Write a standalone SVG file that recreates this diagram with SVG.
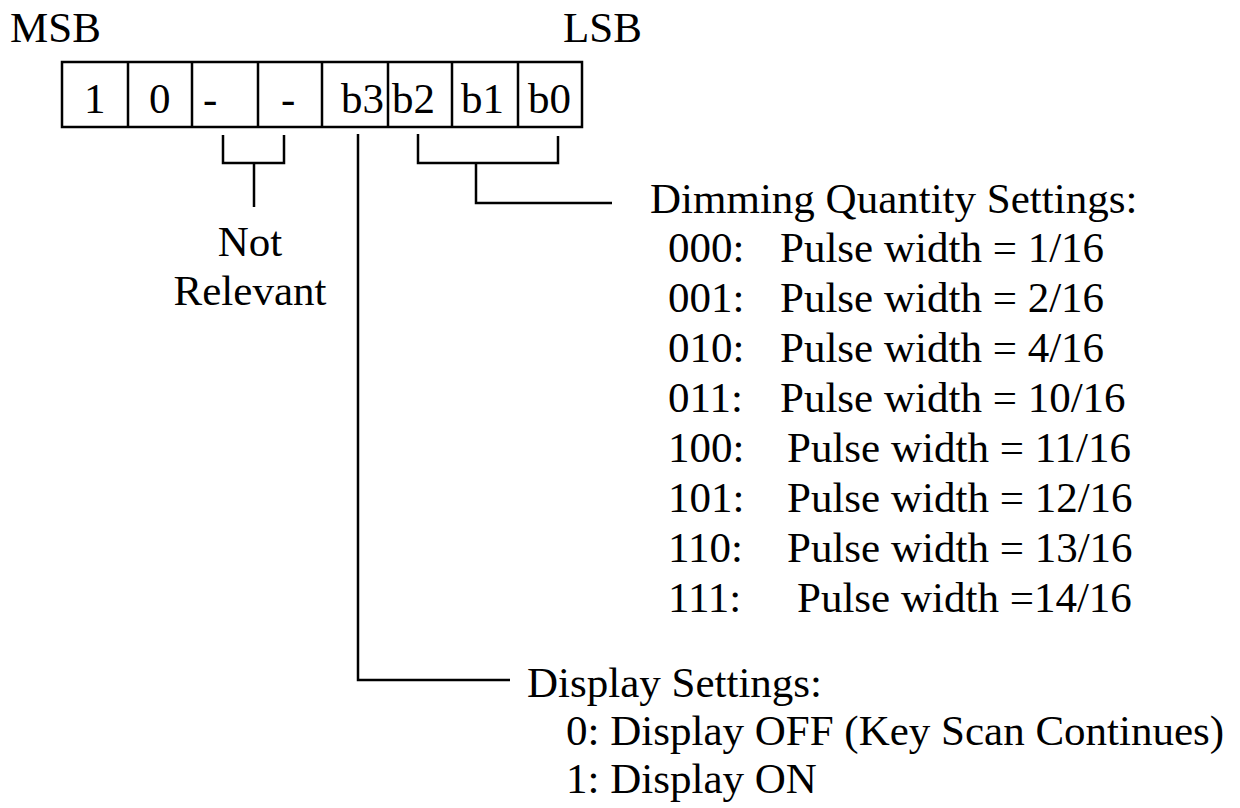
<svg xmlns="http://www.w3.org/2000/svg" width="1240" height="808" viewBox="0 0 1240 808">
<style>
.t{font-family:'Liberation Serif','Times New Roman',serif;font-size:43px;fill:#000}
.ln{fill:none;stroke:#000;stroke-width:2.5}
</style>
<rect width="1240" height="808" fill="#fff"/>
<g id="labels">
<text class="t" x="10" y="42">MSB</text>
<text class="t" x="563" y="42">LSB</text>
</g>
<g id="register">
<rect class="ln" x="62" y="62" width="520" height="65"/>
<path class="ln" d="M128 62V127M192 62V127M258 62V127M322 62V127M388 62V127M452 62V127M518 62V127"/>
<text class="t" x="84" y="113">1</text>
<text class="t" x="149" y="113">0</text>
<text class="t" x="203" y="113">-</text>
<text class="t" x="281" y="113">-</text>
<text class="t" x="341" y="113">b3</text>
<text class="t" x="392" y="113">b2</text>
<text class="t" x="461" y="113">b1</text>
<text class="t" x="528" y="113">b0</text>
</g>
<g id="connectors">
<path class="ln" d="M223 135V163H284V135M254 163V207"/>
<path class="ln" d="M358 134V680H510"/>
<path class="ln" d="M418 134V163H558V136M476 163V203H612"/>
</g>
<g id="not-relevant">
<text class="t" x="250" y="256" text-anchor="middle">Not</text>
<text class="t" x="250" y="305" text-anchor="middle">Relevant</text>
</g>
<g id="dimming">
<text class="t" x="650" y="213">Dimming Quantity Settings:</text>
<text class="t" x="668" y="262">000:<tspan x="780">Pulse width = 1/16</tspan></text>
<text class="t" x="668" y="312">001:<tspan x="780">Pulse width = 2/16</tspan></text>
<text class="t" x="668" y="362">010:<tspan x="780">Pulse width = 4/16</tspan></text>
<text class="t" x="668" y="412">011:<tspan x="780">Pulse width = 10/16</tspan></text>
<text class="t" x="668" y="462">100:<tspan x="787">Pulse width = 11/16</tspan></text>
<text class="t" x="668" y="512">101:<tspan x="787">Pulse width = 12/16</tspan></text>
<text class="t" x="668" y="562">110:<tspan x="787">Pulse width = 13/16</tspan></text>
<text class="t" x="668" y="612">111:<tspan x="797">Pulse width =14/16</tspan></text>
</g>
<g id="display">
<text class="t" x="527" y="697">Display Settings:</text>
<text class="t" x="566" y="745">0: Display OFF (Key Scan Continues)</text>
<text class="t" x="566" y="793">1: Display ON</text>
</g>
</svg>
